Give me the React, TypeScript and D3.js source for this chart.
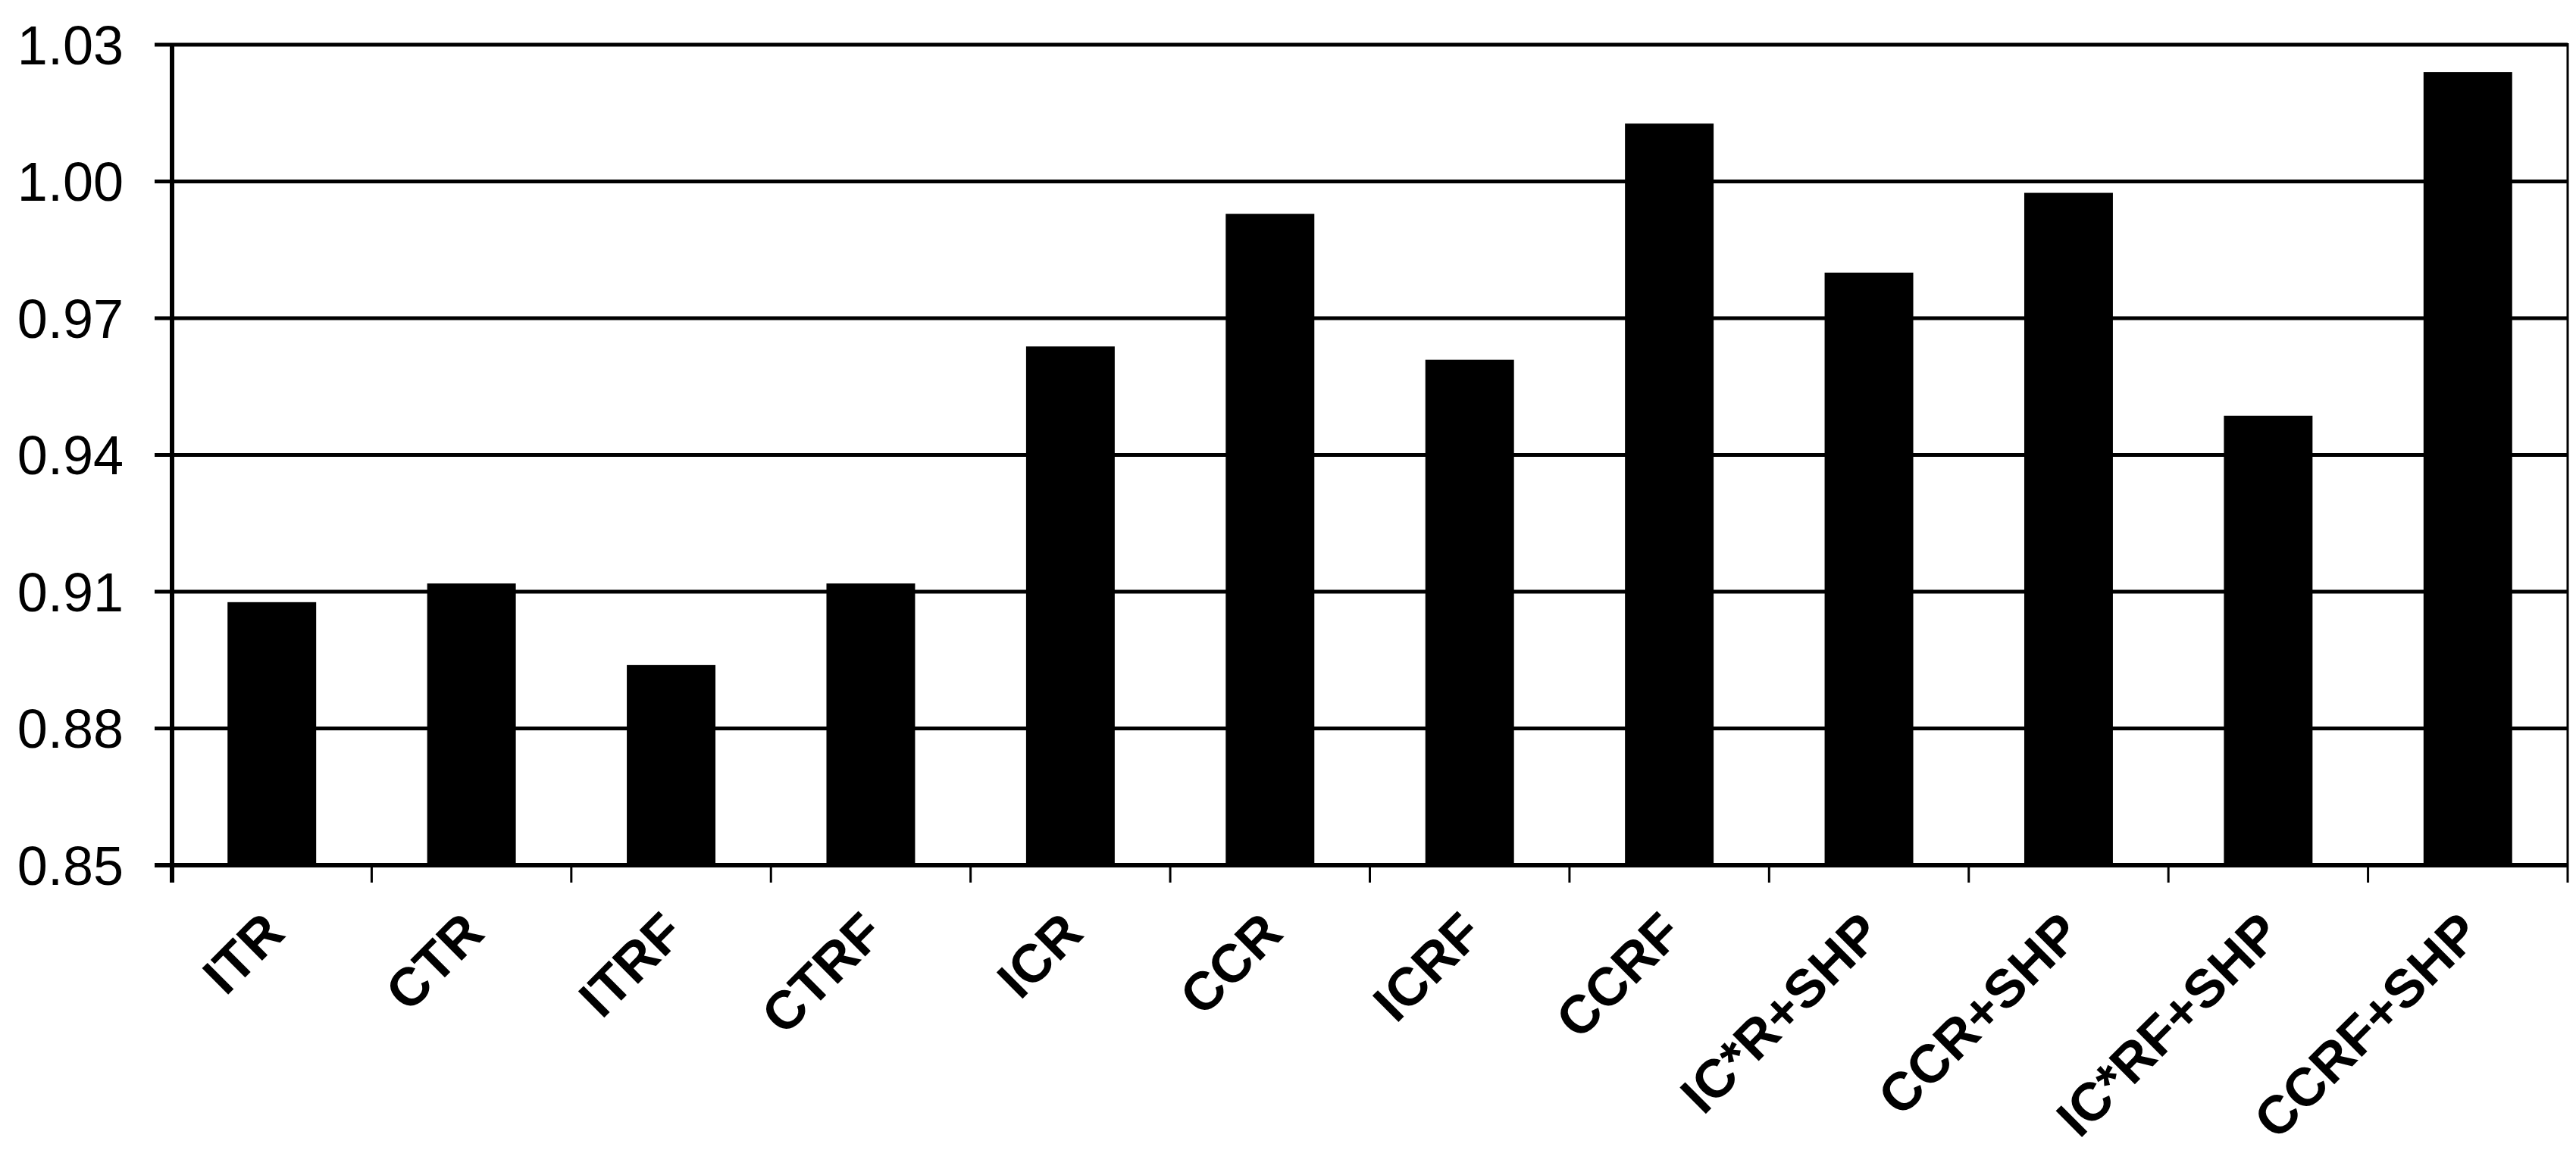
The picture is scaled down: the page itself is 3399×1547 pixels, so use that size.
import React, { useEffect, useRef } from 'react'
import * as d3 from 'd3'

const categories = [
  'ITR',
  'CTR',
  'ITRF',
  'CTRF',
  'ICR',
  'CCR',
  'ICRF',
  'CCRF',
  'IC*R+SHP',
  'CCR+SHP',
  'IC*RF+SHP',
  'CCRF+SHP',
]

const values = [
  0.9077, 0.9118, 0.8939, 0.9118, 0.9638, 0.9929, 0.9609, 1.0127, 0.98,
  0.9975, 0.9486, 1.024,
]

const yTicks = [0.85, 0.88, 0.91, 0.94, 0.97, 1.0, 1.03]

const App = () => {
  const svgRef = useRef<SVGSVGElement | null>(null)

  useEffect(() => {
    document.body.style.margin = '0'

    const width = 3399
    const height = 1547
    const margin = { top: 59, right: 11, bottom: 405, left: 227 }
    const plotRight = width - margin.right
    const plotBottom = height - margin.bottom

    const svgElement = d3.select(svgRef.current)
    svgElement.selectAll('*').remove()

    const svg = svgElement
      .attr('width', width)
      .attr('height', height)
      .attr('viewBox', `0 0 ${width} ${height}`)

    svg.append('rect')
      .attr('width', width)
      .attr('height', height)
      .attr('fill', '#fff')

    const gap = 0.556
    const xScale = d3
      .scaleBand<string>()
      .domain(categories)
      .range([margin.left, plotRight])
      .paddingInner(gap)
      .paddingOuter(gap / 2)

    const yScale = d3
      .scaleLinear()
      .domain([0.85, 1.03])
      .range([plotBottom, margin.top])

    const tickLen = 23

    // horizontal gridlines + left tick marks
    svg.append('g')
      .selectAll('line')
      .data(yTicks.slice(1))
      .enter()
      .append('line')
      .attr('x1', margin.left - tickLen)
      .attr('x2', plotRight)
      .attr('y1', (d) => yScale(d))
      .attr('y2', (d) => yScale(d))
      .attr('stroke', '#000')
      .attr('stroke-width', 5)

    // y tick labels
    svg.append('g')
      .selectAll('text')
      .data(yTicks)
      .enter()
      .append('text')
      .attr('x', 163)
      .attr('y', (d) => yScale(d))
      .attr('dy', '0.36em')
      .attr('text-anchor', 'end')
      .style('font-family', 'Arial, "Liberation Sans", sans-serif')
      .style('font-size', '72px')
      .style('fill', '#000')
      .text((d) => d3.format('.2f')(d))

    // bars
    svg.append('g')
      .selectAll('rect')
      .data(values)
      .enter()
      .append('rect')
      .attr('x', (d, i) => xScale(categories[i]) as number)
      .attr('y', (d) => yScale(d))
      .attr('width', xScale.bandwidth())
      .attr('height', (d) => plotBottom - yScale(d))
      .attr('fill', '#000')

    // category boundaries for x tick marks
    const step = xScale.step()
    const boundaries = categories.map(
      (c) => (xScale(c) as number) - (step - xScale.bandwidth()) / 2
    )
    boundaries.push(plotRight)

    svg.append('g')
      .selectAll('line')
      .data(boundaries.slice(1, -1))
      .enter()
      .append('line')
      .attr('x1', (d) => d)
      .attr('x2', (d) => d)
      .attr('y1', plotBottom)
      .attr('y2', plotBottom + tickLen)
      .attr('stroke', '#000')
      .attr('stroke-width', 3)

    // right border
    svg.append('line')
      .attr('x1', plotRight)
      .attr('x2', plotRight)
      .attr('y1', margin.top - 2)
      .attr('y2', plotBottom + tickLen)
      .attr('stroke', '#000')
      .attr('stroke-width', 3)

    // y axis
    svg.append('line')
      .attr('x1', margin.left)
      .attr('x2', margin.left)
      .attr('y1', margin.top - 2)
      .attr('y2', plotBottom + tickLen)
      .attr('stroke', '#000')
      .attr('stroke-width', 6)

    // x axis
    svg.append('line')
      .attr('x1', margin.left - tickLen)
      .attr('x2', plotRight)
      .attr('y1', plotBottom)
      .attr('y2', plotBottom)
      .attr('stroke', '#000')
      .attr('stroke-width', 6)

    // rotated category labels
    svg.append('g')
      .selectAll('text')
      .data(categories)
      .enter()
      .append('text')
      .attr('transform', (d) => {
        const cx = (xScale(d) as number) + xScale.bandwidth() / 2 + 20
        const cy = plotBottom + 93
        return `translate(${cx},${cy}) rotate(-45)`
      })
      .attr('text-anchor', 'end')
      .style('font-family', 'Arial, "Liberation Sans", sans-serif')
      .style('font-weight', 'bold')
      .style('font-size', '71px')
      .style('fill', '#000')
      .text((d) => d)
  }, [])

  return (
    <div style={{ width: 3399, height: 1547, background: '#fff' }}>
      <svg ref={svgRef} style={{ display: 'block' }}></svg>
    </div>
  )
}

export default App
